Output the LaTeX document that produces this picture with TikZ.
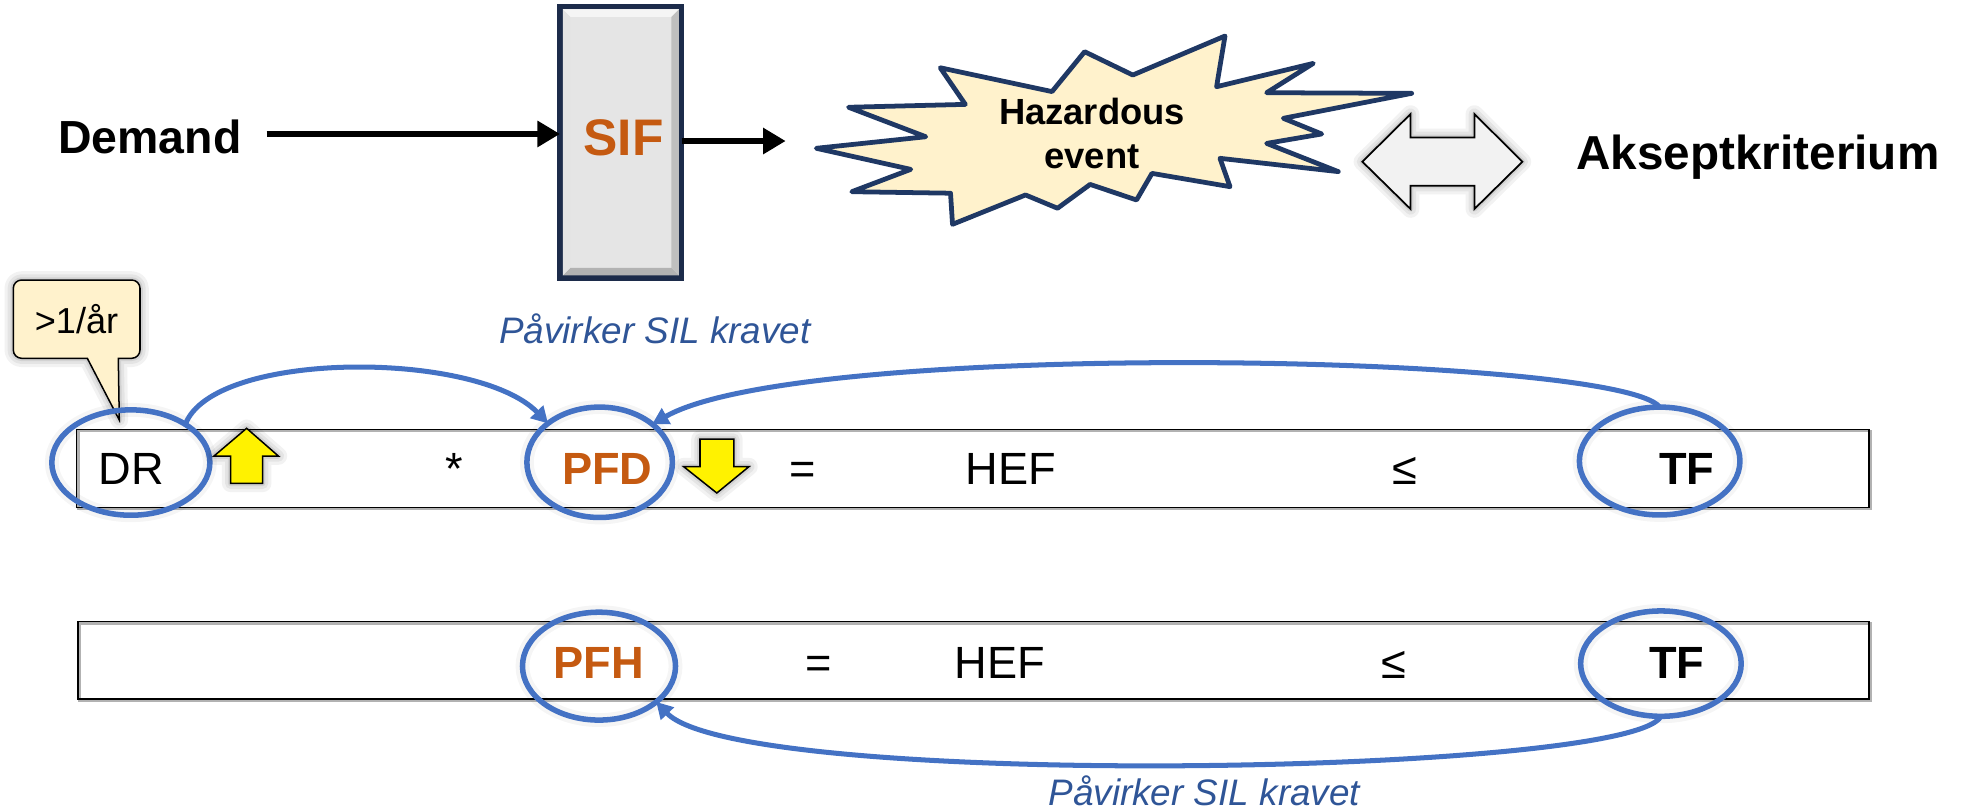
\documentclass[tikz,border=0pt]{standalone}
\usepackage{fontspec}
\setmainfont{Liberation Sans}
\usetikzlibrary{arrows.meta,shapes.geometric,calc}

\definecolor{ringblue}{HTML}{4472C4}
\definecolor{noteblue}{HTML}{2F5597}
\definecolor{keyorange}{HTML}{C55A11}
\definecolor{starnavy}{HTML}{1F3864}
\definecolor{boxnavy}{HTML}{1C2B4A}
\definecolor{cream}{HTML}{FFF2CC}
\definecolor{paleg}{HTML}{F2F2F2}
\definecolor{boxgray}{HTML}{E5E5E5}

\begin{document}
\begin{tikzpicture}[x=0.5pt, y=-0.5pt,
  plain/.style={inner sep=0pt, outer sep=0pt},
  headline/.style={plain, font=\fontsize{18.5pt}{22pt}\selectfont\bfseries},
  rowtext/.style={plain, anchor=base, font=\fontsize{18pt}{21pt}\selectfont},
  rowkey/.style={plain, anchor=base, font=\fontsize{18pt}{21pt}\selectfont\bfseries},
  rowsil/.style={rowkey, text=keyorange},
  note/.style={plain, anchor=base, text=noteblue, font=\fontsize{14.7pt}{17pt}\selectfont\itshape},
  ring/.style={ellipse, draw=ringblue, line width=2.2pt, inner sep=0pt, outer sep=0pt,
    preaction={draw=black, draw opacity=0.04, line width=5.5pt}},
  link/.style={draw=ringblue, line width=2pt, -{Triangle[length=6.5pt,width=7pt]}},
  fatarrow/.style={draw=black, line width=2.7pt, -{Triangle[length=9pt,width=10pt]}},
  softshade/.style={
    preaction={draw=black, draw opacity=0.05, line width=7pt, line join=round},
    preaction={draw=black, draw opacity=0.06, line width=4.5pt, line join=round},
    preaction={draw=black, draw opacity=0.08, line width=2.2pt, line join=round}},
  yarrow/.style={softshade, fill=yellow, draw=black, line width=0.6pt},
  rowframe/.style={draw=black, line width=0.6pt,
    preaction={draw=black!30, line width=1pt, transform canvas={shift={(0.7pt,-0.7pt)}}}},
  starline/.style={draw=starnavy, fill=cream, line width=1.9pt, line join=round},
]
\useasboundingbox (0,0) rectangle (1568,645);

% ---------- top chain: Demand -> SIF -> hazardous event <-> criterion ----------
\node[headline, anchor=base west] (demand) at (46.5,122.2) {Demand};

\node[draw=boxnavy, line width=2.2pt, fill=boxgray, minimum width=48.5pt,
      minimum height=108.2pt, inner sep=0pt, outer sep=0pt] (sif) at (494.9,113.5) {};
% bevel of the SIF block
\fill[white!92!gray] (448.6,7.5) -- (541.2,7.5) -- (535.2,13.5) -- (454.6,13.5) -- cycle;
\fill[gray!60] (448.6,219.5) -- (541.2,219.5) -- (535.2,213.5) -- (454.6,213.5) -- cycle;
\fill[gray!22] (448.6,7.5) -- (454.6,13.5) -- (454.6,213.5) -- (448.6,219.5) -- cycle;
\fill[gray!50] (541.2,7.5) -- (535.2,13.5) -- (535.2,213.5) -- (541.2,219.5) -- cycle;
\node[plain, anchor=base, text=keyorange, font=\fontsize{20.5pt}{24pt}\selectfont\bfseries]
  (siflabel) at (497,123.6) {SIF};

\draw[fatarrow] ([xshift=10pt,yshift=1.1pt]demand.east) -- ([yshift=1.1pt]demand.east -| sif.west);

\coordinate (hzin) at (626.3,112.4);
\draw[fatarrow] (sif.east |- hzin) -- (hzin);

% explosion outline of the hazardous event
\draw[starline] (650.7,118.2) -- (738,109) -- (676.4,85.5) -- (769.5,83.2) -- (749.5,54)
  -- (838.6,73) -- (864.6,41.2) -- (903,59.8) -- (976.5,28.7) -- (969.8,69.1)
  -- (1046.9,50.5) -- (1009.7,73.9) -- (1125.3,74.4) -- (1023,94.3) -- (1053.6,106.8)
  -- (1009.7,114.3) -- (1066.8,136.8) -- (972.5,126.2) -- (980.5,148.8) -- (918.3,138.2)
  -- (906,159.4) -- (869,147) -- (843,166) -- (817.5,155.4) -- (759.3,178.8)
  -- (757.7,154) -- (679,152.8) -- (726,135) -- cycle;
\node[plain, align=center, font=\fontsize{14.5pt}{17.6pt}\selectfont\bfseries]
  (hazard) at (870.5,106.5) {Hazardous\\event};

% two-headed comparison arrow
\draw[softshade, fill=paleg, draw=black, line width=0.7pt]
  (1086,128.9) -- (1124.4,90.9) -- (1124.4,109.5) -- (1175.3,109.5) -- (1175.3,90.9)
  -- (1213.6,128.9) -- (1175.3,166.6) -- (1175.3,148) -- (1124.4,148) -- (1124.4,166.6) -- cycle;

\node[headline, font=\fontsize{19pt}{22pt}\selectfont\bfseries, anchor=base west]
  (accept) at (1256.7,135.5) {Akseptkriterium};

% ---------- callout on the demand rate ----------
\draw[softshade, fill=cream, draw=black, line width=0.6pt]
  (95.1,334.8) -- (69.6,285.6) [rounded corners=3.3pt] -- (10.6,285.6) -- (10.6,223.2)
  -- (111.6,223.2) -- (111.6,285.6) [sharp corners] -- (94.3,285.6) -- cycle;
\node[plain, anchor=base, font=\fontsize{14.4pt}{17pt}\selectfont] (freq) at (61,265.7) {>1/år};

% ---------- low-demand equation ----------
\draw[rowframe] (61.1,342.2) rectangle (1490,404.4);
\node[rowtext] (dr-t)  at (104.7,386.5) {DR};
\node[rowtext] (mul1)  at (362,386.5) {*};
\node[rowsil]  (pfd-t) at (484,386.5) {PFD};
\node[rowtext] (eq1)   at (640,386.5) {=};
\node[rowtext] (hef1)  at (806,386.5) {HEF};
\node[rowtext] (le1)   at (1120,386.5) {≤};
\node[rowkey]  (tf1-t) at (1344.5,386.5) {TF};

\node[ring, minimum width=63pt, minimum height=42pt] (dr)  at (104.3,368.7) {};
\node[ring, minimum width=58pt, minimum height=44pt] (pfd) at (478,368.5) {};
\node[ring, minimum width=64pt, minimum height=43pt] (tf1) at (1323,367.5) {};

\draw[yarrow] (196.6,341.4) -- (221.9,363.5) -- (209.4,363.5) -- (209.4,385.3)
  -- (183.9,385.3) -- (183.9,363.5) -- (170.6,363.5) -- cycle;
\draw[yarrow] (571.4,393) -- (597,372) -- (585,372) -- (585,350)
  -- (558,350) -- (558,372) -- (545,372) -- cycle;

\draw[link] (dr.35) .. controls (170,279) and (380,279) .. (pfd.143);
\draw[link] (tf1.north) .. controls (1290,282) and (640,270) .. (pfd.36);
\node[note] (note1) at (522,273.6) {Påvirker SIL kravet};

% ---------- high-demand equation ----------
\draw[rowframe] (62,495.6) rectangle (1490,557);
\node[rowsil]  (pfh-t) at (477.5,540.7) {PFH};
\node[rowtext] (eq2)   at (652.5,540.7) {=};
\node[rowtext] (hef2)  at (797,540.7) {HEF};
\node[rowtext] (le2)   at (1111,540.7) {≤};
\node[rowkey]  (tf2-t) at (1336.5,540.7) {TF};

\node[ring, minimum width=61pt, minimum height=43pt] (pfh) at (477.5,531) {};
\node[ring, minimum width=64pt, minimum height=42pt] (tf2) at (1324,529) {};

\draw[link] (tf2.south) .. controls (1300,618) and (590,630) .. (pfh.-32);
\node[note] (note2) at (960,641.7) {Påvirker SIL kravet};
\end{tikzpicture}
\end{document}
